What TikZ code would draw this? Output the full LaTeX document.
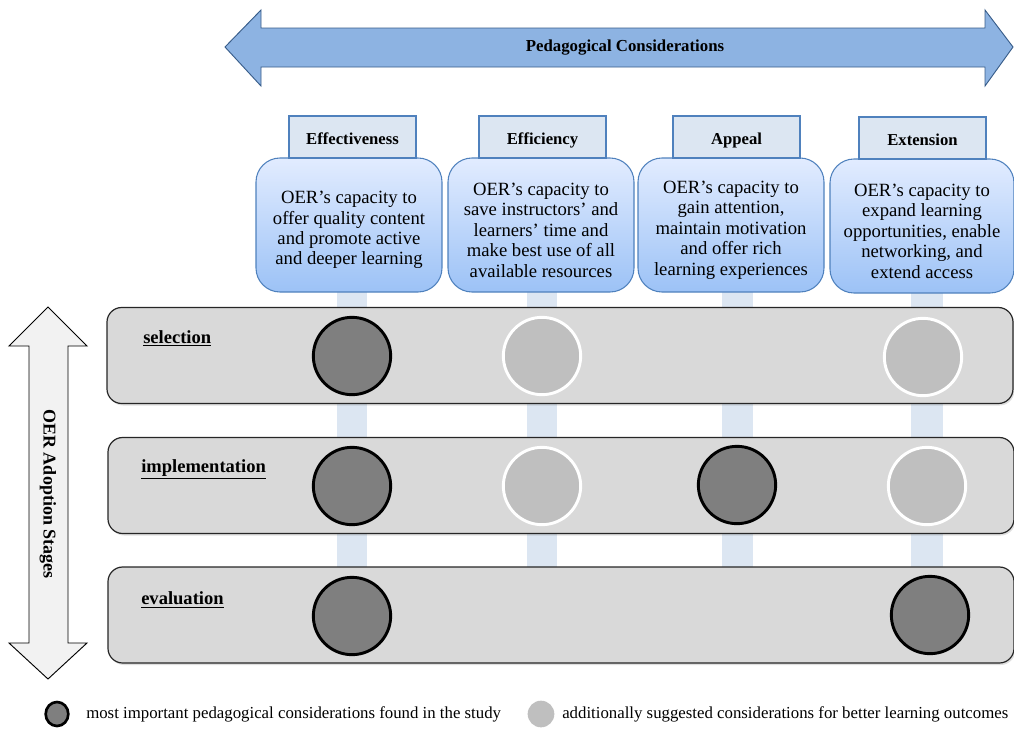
\documentclass[tikz,border=0pt]{standalone}
\usepackage{fontspec}
\setmainfont{Liberation Serif}
\usetikzlibrary{shadows,shapes.geometric}
\definecolor{arrowblue}{HTML}{8DB3E2}
\definecolor{arrowedge}{HTML}{385D8A}
\definecolor{headfill}{HTML}{DCE6F2}
\definecolor{headedge}{HTML}{4F81BD}
\definecolor{boxtop}{HTML}{E2ECFF}
\definecolor{boxbot}{HTML}{9CC2F6}
\definecolor{barblue}{HTML}{DCE6F2}
\definecolor{rowfill}{HTML}{D9D9D9}
\definecolor{rowedge}{HTML}{262626}
\definecolor{darkdot}{HTML}{7F7F7F}
\definecolor{lightdot}{HTML}{BFBFBF}
\definecolor{stagearrow}{HTML}{F2F2F2}
\newcommand{\toppad}{\rule{0pt}{17pt}}
\begin{document}
\begin{tikzpicture}[x=0.75pt,y=-0.75pt,
  headbox/.style={draw=headedge, fill=headfill, line width=0.8pt,
    minimum width=95.25pt, minimum height=31.5pt, inner sep=0pt,
    text height=12pt, text depth=0.8pt,
    font=\fontsize{12.5}{14}\selectfont\bfseries},
  descbox/.style={draw=headedge, line width=0.8pt, rounded corners=18pt,
    top color=boxtop, bottom color=boxbot,
    minimum width=139.5pt, minimum height=100.5pt, inner sep=0pt,
    align=center, font=\fontsize{14}{15.3}\selectfont},
  bar/.style={fill=barblue, draw=none},
  rowbox/.style={draw=rowedge, line width=0.9pt, fill=rowfill, rounded corners=11pt,
    minimum width=679.5pt, minimum height=72pt, inner sep=0pt,
    drop shadow={shadow xshift=1pt, shadow yshift=-1.5pt, opacity=0.25}},
  stagelabel/.style={anchor=west, inner sep=0pt, font=\fontsize{13.9}{16}\selectfont\bfseries},
  darkdotstyle/.style={circle, draw=black, line width=2.2pt, fill=darkdot,
    minimum size=58pt, inner sep=0pt},
  lightdotstyle/.style={circle, draw=white, line width=2.2pt, fill=lightdot,
    minimum size=58pt, inner sep=0pt},
  legendtext/.style={anchor=west, inner sep=0pt, font=\fontsize{12.6}{14}\selectfont},
]
\useasboundingbox (0,0) rectangle (1014,729);

% top double arrow
\draw[fill=arrowblue, draw=arrowedge, line width=0.7pt]
  (225,47) -- (261,10) -- (261,28) -- (985,28) -- (985,10) -- (1013,47)
  -- (985,86) -- (985,67) -- (261,67) -- (261,86) -- cycle;
\node[font=\fontsize{12.6}{14}\selectfont\bfseries] (title) at (625,48) {Pedagogical Considerations};

% vertical bars
\fill[bar] (337,292) rectangle (367,662);
\fill[bar] (527,292) rectangle (557,662);
\fill[bar] (722,292) rectangle (753,662);
\fill[bar] (911,292) rectangle (943,662);

% description boxes
\node[descbox] (effbox) at (349,225) {\toppad OER’s capacity to\\offer quality content\\and promote active\\and deeper learning};
\node[descbox] (ficbox) at (541,225) {\toppad OER’s capacity to\\save instructors’ and\\learners’ time and\\make best use of all\\available resources};
\node[descbox] (appbox) at (731,225) {\toppad OER’s capacity to\\gain attention,\\maintain motivation\\and offer rich\\learning experiences};
\node[descbox, minimum width=138pt] (extbox) at (922,226) {\toppad OER’s capacity to\\expand learning\\opportunities, enable\\networking, and\\extend access};

% header boxes
\node[headbox] (effh) at (352.5,137) {Effectiveness};
\node[headbox] (fich) at (542.5,137) {Efficiency};
\node[headbox] (apph) at (736.5,137) {Appeal};
\node[headbox] (exth) at (922.5,138) {Extension};

% stage rows
\node[rowbox] (sel) at (560,355.5) {};
\node[rowbox] (imp) at (561,485.5) {};
\node[rowbox] (eva) at (561,615) {};

\node[stagelabel] (sellab) at (143,338) {\underline{selection}};
\node[stagelabel] (implab) at (141,469) {\underline{implementation}};
\node[stagelabel] (evalab) at (141,600) {\underline{evaluation}};

% dots
\node[darkdotstyle] (s1) at (352,356) {};
\node[lightdotstyle] (s2) at (542,356) {};
\node[lightdotstyle] (s4) at (923,357) {};
\node[darkdotstyle] (i1) at (352,486) {};
\node[lightdotstyle] (i2) at (542,486) {};
\node[darkdotstyle] (i3) at (737,485) {};
\node[lightdotstyle] (i4) at (927,486) {};
\node[darkdotstyle] (e1) at (352,616) {};
\node[darkdotstyle] (e4) at (930,615) {};

% left vertical double arrow
\draw[fill=stagearrow, draw=black, line width=0.7pt]
  (48,307) -- (87,346) -- (68,346) -- (68,643) -- (87,643) -- (48,679)
  -- (9,643) -- (29,643) -- (29,346) -- (9,346) -- cycle;
\node[rotate=-90, font=\fontsize{13.5}{15}\selectfont\bfseries] (stages) at (48,494) {OER Adoption Stages};

% legend
\node[ellipse, draw=black, line width=2pt, fill=darkdot, minimum width=17pt, minimum height=18pt, inner sep=0pt] (legdark) at (57,714) {};
\node[legendtext] (legdarktext) at (86,714) {most important pedagogical considerations found in the study};
\node[circle, fill=lightdot, minimum size=20pt, inner sep=0pt] (leglight) at (541,714) {};
\node[legendtext] (leglighttext) at (562,714) {additionally suggested considerations for better learning outcomes};
\end{tikzpicture}
\end{document}
